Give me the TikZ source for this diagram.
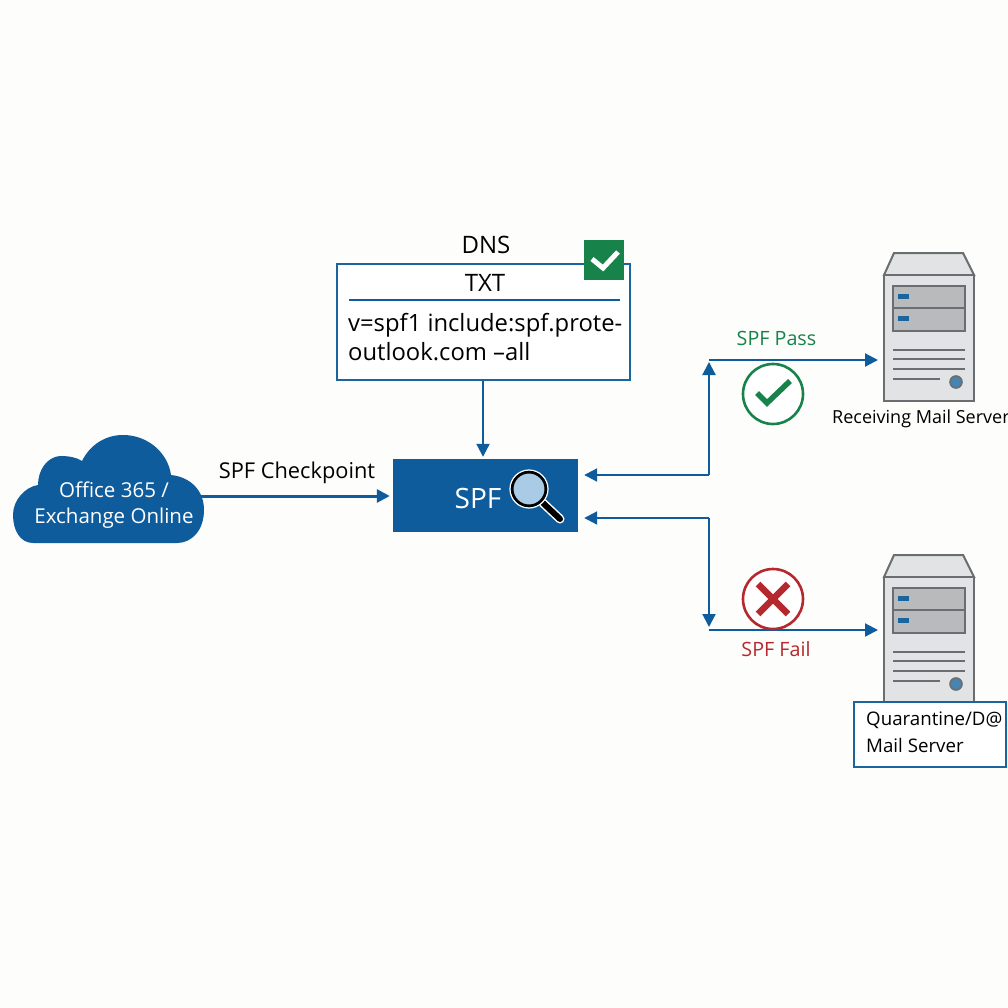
\documentclass[tikz,border=0pt]{standalone}
\usepackage{fontspec}
\setmainfont{Open Sans}
\usetikzlibrary{arrows.meta}
\definecolor{pageback}{HTML}{FDFDFC}
\definecolor{msblue}{HTML}{0F5C9C}
\definecolor{linkblue}{HTML}{1A659E}
\definecolor{passgreen}{HTML}{17834A}
\definecolor{failred}{HTML}{B5282E}
\definecolor{srvgrey}{HTML}{E2E3E4}
\definecolor{srvedge}{HTML}{6B6E70}
\definecolor{srvpanel}{HTML}{B9BABB}
\definecolor{lensblue}{HTML}{A9CBE5}
\newcommand{\txtsize}[1]{\fontsize{#1}{#1}\selectfont}
\tikzset{
  link/.style={draw=msblue, line width=2.1pt, -{Triangle[length=13pt,width=13pt]}},
  label/.style={inner sep=0pt, text=black, font=\txtsize{20}},
  outlinebox/.style={draw=linkblue, line width=2pt, fill=white, inner sep=0pt},
  serverbody/.style={draw=srvedge, line width=2pt, fill=srvgrey, minimum width=90pt, minimum height=126pt, inner sep=0pt},
  serverpart/.style={draw=srvedge, line width=2pt},
  markring/.style={circle, draw=#1, line width=2.6pt, fill=white, minimum size=60pt, inner sep=0pt}
}
\begin{document}
\begin{tikzpicture}[x=1pt,y=-1pt]
\useasboundingbox (0,0) rectangle (1008,1008);
\fill[pageback] (0,0) rectangle (1008,1008);
% Cloud
\fill[msblue] (33,543) .. controls (20,543) and (13,530) .. (13,515)
  .. controls (13,500) and (25,487) .. (38,485)
  .. controls (38,470) and (47,457) .. (60,456)
  .. controls (68,456) and (76,457) .. (82,461)
  .. controls (90,445) and (105,435) .. (123,435)
  .. controls (148,435) and (168,453) .. (171,475)
  .. controls (190,477) and (204,490) .. (204,510)
  .. controls (204,530) and (192,543) .. (177,543) -- cycle;
\node[label, font=\txtsize{20.5}, text=white, align=center] (cloud) at (114,505) {Office 365 /\\[5pt]Exchange Online};
\coordinate (cloudout) at (200,496);
% SPF box
\node[fill=msblue, minimum width=185pt, minimum height=73pt, inner sep=0pt] (spfbox) at (485.5,495.5) {};
\node[inner sep=0pt, text=white, font=\txtsize{28}] (spftext) at (478,498) {SPF};
\draw[white, line width=9pt, line cap=round] (543,503) -- (560,519);
\draw[black, line width=6pt, line cap=round] (543,503) -- (560,519);
\node[circle, draw=black, line width=3pt, fill=lensblue, minimum size=34pt, inner sep=0pt] (lens) at (529,489) {};
\draw[white, line width=1.2pt] (lens) circle[radius=19];
% DNS box
\node[outlinebox, minimum width=293pt, minimum height=116pt] (dnsbox) at (483,321.5) {};
\node[label, font=\txtsize{24}] (dnslabel) at (486,245) {DNS};
\node[label, font=\txtsize{24}] (txtlabel) at (485,283) {TXT};
\draw[msblue, line width=2.6pt] (349,300) -- (620,300);
\node[label, font=\txtsize{23.8}, anchor=west] (recline) at (348,325) {v=spf1 include:spf.prote-};
\node[label, font=\txtsize{23.8}, anchor=west] (recend) at (348,352) {outlook.com --all};
\node[fill=passgreen, minimum size=40pt, inner sep=0pt] (dnscheck) at (603.5,259.5) {};
\draw[white, line width=5pt] (592,259) -- (603,268) -- (618,252);
% Servers
\foreach \dy/\name in {0/recvserver,302/quarserver}{
  \begin{scope}[shift={(0,\dy)}]
    \filldraw[serverpart, fill=srvgrey] (884,275) -- (894,253) -- (963,253) -- (974,275) -- cycle;
    \node[serverbody] (\name) at (929,338) {};
    \filldraw[serverpart, fill=srvpanel] (893,286) rectangle (965,331);
    \draw[serverpart] (893,308) -- (965,308);
    \fill[linkblue] (898,294) rectangle (909,299);
    \fill[linkblue] (898,316) rectangle (909,321);
    \foreach \ly in {350,359,369}{
      \draw[srvedge, line width=1.6pt] (893,\ly) -- (965,\ly);
    }
    \draw[srvedge, line width=1.6pt] (893,379) -- (940,379);
    \filldraw[draw=srvedge, line width=1.6pt, fill=linkblue!80!white] (956,382) circle[radius=6];
  \end{scope}
}
\node[label, font=\txtsize{18}, anchor=west] (recvlabel) at (832,419) {Receiving Mail Server};
\node[outlinebox, minimum width=152pt, minimum height=65pt] (quarbox) at (930,734.5) {};
\node[label, font=\txtsize{18.7}, anchor=west] (quarline) at (866,720) {Quarantine/D@};
\node[label, font=\txtsize{18.7}, anchor=west] (quarend) at (866,745) {Mail Server};
% Corners
\coordinate (passcorner) at (709,360);
\coordinate (failcorner) at (709,630);
\coordinate (passin) at (709,475);
\coordinate (failin) at (709,518);
% Connectors
\draw[link, line width=3pt, shorten >=3pt] (cloudout) -- (cloudout -| spfbox.west);
\draw[link] (dnsbox.south) -- ([yshift=2pt]dnsbox.south |- spfbox.north);
\draw[link, shorten >=6pt] (passin) -- (passin -| spfbox.east);
\draw[link, shorten >=6pt] (failin) -- (failin -| spfbox.east);
\draw[link, shorten >=2pt] (passin) -- (passcorner);
\draw[link, shorten >=3pt] (failin) -- (failcorner);
\draw[link, shorten >=5pt] (passcorner) -- (passcorner -| recvserver.west);
\draw[link, shorten >=5pt] (failcorner) -- (failcorner -| quarserver.west);
% Labels on connectors
\node[label, font=\txtsize{21.8}] (cplabel) at (297,473) {SPF Checkpoint};
\node[label, text=passgreen, font=\txtsize{19.7}] (passlabel) at (776.5,338) {SPF Pass};
\node[label, text=failred, font=\txtsize{19.7}] (faillabel) at (776,649) {SPF Fail};
% Pass and fail marks
\node[markring=passgreen] (passmark) at (773,394) {};
\draw[passgreen, line width=5.5pt] (757,393) -- (767,403) -- (790,381);
\node[markring=failred] (failmark) at (773,599) {};
\draw[failred, line width=6.5pt] (758,584) -- (788,614);
\draw[failred, line width=6.5pt] (788,584) -- (758,614);
\end{tikzpicture}
\end{document}
